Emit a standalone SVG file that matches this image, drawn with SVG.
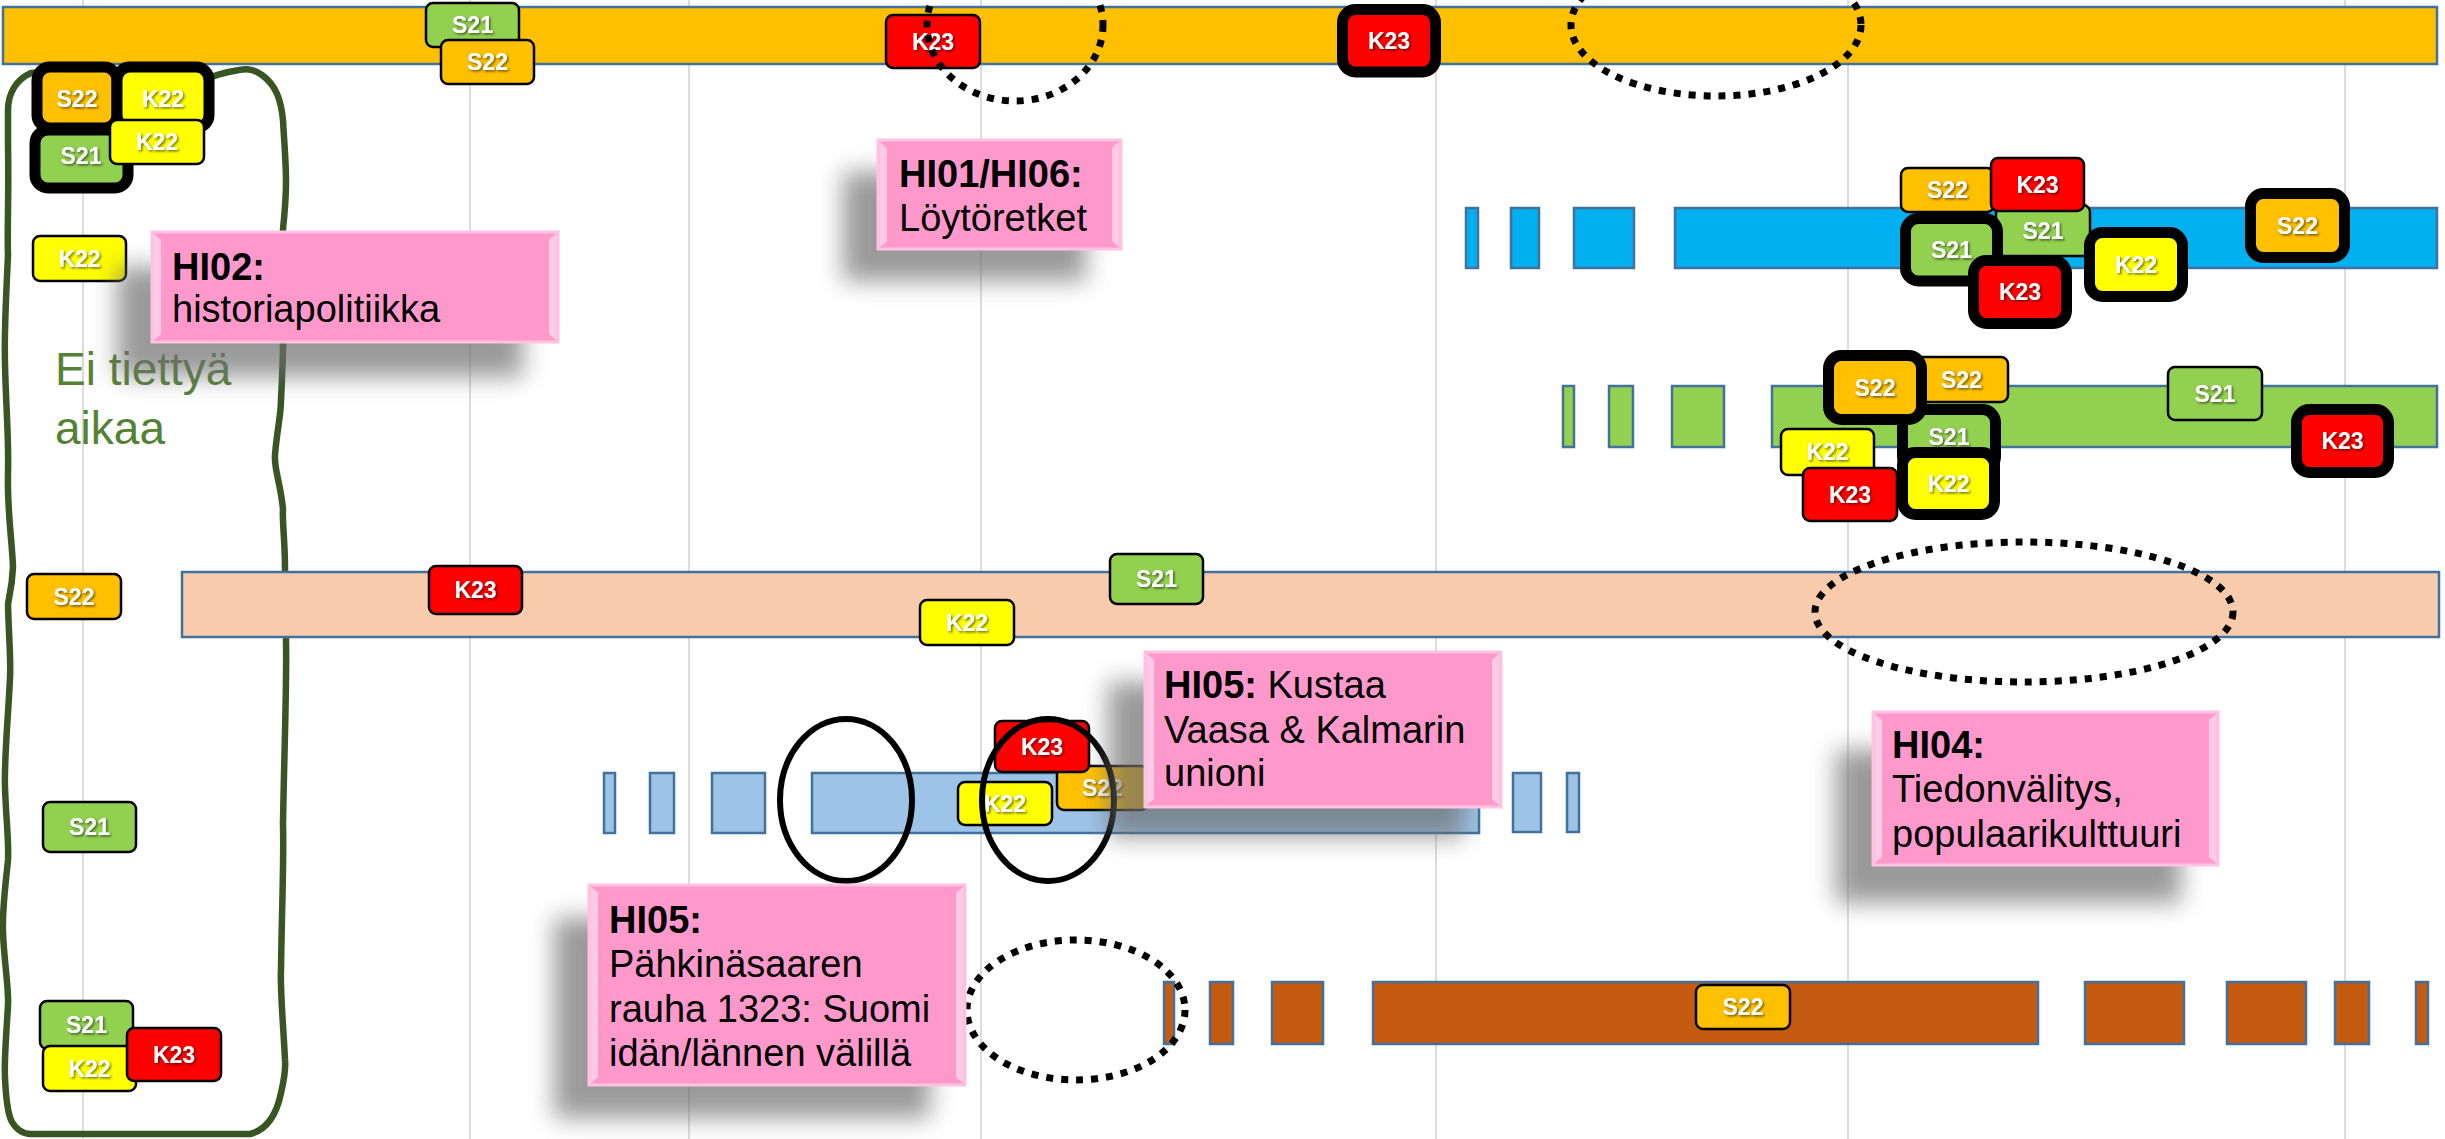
<svg xmlns="http://www.w3.org/2000/svg" width="2445" height="1139" viewBox="0 0 2445 1139">
<defs>
<style>
.grid{stroke:#d0d0d0;stroke-width:1.5}
.bar{stroke:#41719C;stroke-width:2.5}
.b{stroke:#000;stroke-width:2.5}
.bt{stroke:#000;stroke-width:11}
.g{fill:#92D050}.o{fill:#FFC000}.y{fill:#FFFF00}.r{fill:#FF0000}
.bl{font-family:"Liberation Sans",Arial,sans-serif;font-weight:bold;font-size:23px;fill:#fff;text-anchor:middle;filter:url(#ts)}
.lbl{font-family:"Liberation Sans",Arial,sans-serif;font-size:38px;fill:#000}
.hb{font-weight:bold}
.pk{fill:#FF99CC;stroke:#FFC2E0;stroke-width:3}
.bev{fill:#FFD6EB;opacity:0.8}
.shd{fill:#6e6e6e;opacity:0.7;filter:url(#blur)}
.dot{fill:none;stroke:#000;stroke-width:7;stroke-dasharray:7 8}
.sol{fill:none;stroke:#000;stroke-width:6}
</style>
<filter id="ts" x="-20%" y="-30%" width="140%" height="160%"><feDropShadow dx="1.5" dy="1.5" stdDeviation="0.8" flood-color="#000" flood-opacity="0.55"/></filter>
<filter id="blur" x="-30%" y="-40%" width="160%" height="180%"><feGaussianBlur stdDeviation="12"/></filter>
</defs>
<rect width="2445" height="1139" fill="#fff"/>
<g id="grid">
<line class="grid" x1="83" y1="0" x2="83" y2="1139"/>
<line class="grid" x1="470" y1="0" x2="470" y2="1139"/>
<line class="grid" x1="689" y1="0" x2="689" y2="1139"/>
<line class="grid" x1="981" y1="0" x2="981" y2="1139"/>
<line class="grid" x1="1436" y1="0" x2="1436" y2="1139"/>
<line class="grid" x1="1848" y1="0" x2="1848" y2="1139"/>
<line class="grid" x1="2345" y1="0" x2="2345" y2="1139"/>
</g>
<g id="no-time-outline">
<path d="M 31,73 C 15,80 8,95 8,110 L 8,145 C 9,200 7,230 8,255 C 6,300 4,330 5,364 C 6,410 9,440 8,473 C 7,510 12,540 13,567 C 12,590 8,600 8,605 C 9,640 11,660 10,678 C 8,720 4,760 5,787 C 6,820 9,840 8,860 C 5,890 2,910 3,933 C 4,960 9,990 8,1005 C 6,1040 4,1060 5,1078 C 6,1100 8,1115 12,1122 C 18,1132 25,1134 31,1134 L 250,1134 C 262,1131 275,1122 281,1093 C 284,1080 286,1070 285,1060 C 283,1020 280,990 281,969 C 282,900 284,860 283,824 C 284,760 287,680 286,642 C 286,610 285,590 285,569 C 285,540 282,520 283,509 C 280,480 274,470 275,455 C 277,430 281,415 281,400 C 282,380 283,360 283,342 L 283,229 C 285,210 286,195 286,182 C 286,160 284,140 283,120 C 281,100 276,85 262,75 C 252,68 245,69 239,70 C 225,72 218,75 214,76 L 60,76 C 45,74 38,72 31,73 Z" fill="none" stroke="#375623" stroke-width="6.5" stroke-linejoin="round"/>
<text x="55" y="385" font-family="'Liberation Sans',Arial,sans-serif" font-size="46" fill="#548235">Ei tiettyä</text>
<text x="55" y="444" font-family="'Liberation Sans',Arial,sans-serif" font-size="46" fill="#548235">aikaa</text>
</g>
<g id="bars">
<rect class="bar" x="3" y="7" width="2434" height="57" fill="#FFC000"/>
<g fill="#00B0F0">
<rect class="bar" x="1466" y="208" width="12" height="60"/>
<rect class="bar" x="1511" y="208" width="28" height="60"/>
<rect class="bar" x="1574" y="208" width="60" height="60"/>
<rect class="bar" x="1675" y="208" width="762" height="60"/>
</g>
<g fill="#92D050">
<rect class="bar" x="1563" y="386" width="11" height="61"/>
<rect class="bar" x="1609" y="386" width="24" height="61"/>
<rect class="bar" x="1672" y="386" width="52" height="61"/>
<rect class="bar" x="1772" y="386" width="665" height="61"/>
</g>
<rect class="bar" x="182" y="572" width="2257" height="65" fill="#F8CBAD"/>
<g fill="#9DC3E6">
<rect class="bar" x="604" y="773" width="11" height="60"/>
<rect class="bar" x="650" y="773" width="24" height="60"/>
<rect class="bar" x="712" y="773" width="53" height="60"/>
<rect class="bar" x="812" y="773" width="667" height="60"/>
<rect class="bar" x="1513" y="773" width="28" height="59"/>
<rect class="bar" x="1567" y="773" width="12" height="59"/>
</g>
<g fill="#C55A11">
<rect class="bar" x="1164" y="982" width="10" height="62"/>
<rect class="bar" x="1210" y="982" width="23" height="62"/>
<rect class="bar" x="1272" y="982" width="51" height="62"/>
<rect class="bar" x="1373" y="982" width="665" height="62"/>
<rect class="bar" x="2085" y="982" width="99" height="62"/>
<rect class="bar" x="2227" y="982" width="79" height="62"/>
<rect class="bar" x="2335" y="982" width="34" height="62"/>
<rect class="bar" x="2416" y="982" width="12" height="62"/>
</g>
</g>
<g id="badges-row1">
<g id="b-s21-a"><rect class="b g" x="426" y="3" width="93" height="44" rx="7"/><text class="bl" x="472.5" y="33">S21</text></g>
<g id="b-s22-a"><rect class="b o" x="441" y="40" width="93" height="44" rx="7"/><text class="bl" x="487.5" y="70">S22</text></g>
<g id="b-k23-a"><rect class="b r" x="886" y="15" width="94" height="53" rx="7"/><text class="bl" x="933" y="49.5">K23</text></g>
<g id="b-k23-t1"><rect class="bt r" x="1342.5" y="9.5" width="93" height="62.5" rx="13"/><text class="bl" x="1389" y="49">K23</text></g>
</g>
<g id="badges-left">
<g id="b-s21-t2"><rect class="bt g" x="35" y="130" width="93" height="58" rx="13"/><text class="bl" x="81" y="164">S21</text></g>
<g id="b-s22-t3"><rect class="bt o" x="37" y="67" width="80" height="61" rx="13"/><text class="bl" x="77" y="107">S22</text></g>
<g id="b-k22-t4"><rect class="bt y" x="117" y="67" width="92" height="61" rx="13"/><text class="bl" x="163" y="107">K22</text></g>
<g id="b-k22-b"><rect class="b y" x="110" y="120" width="94" height="44" rx="7"/><text class="bl" x="157" y="150">K22</text></g>
<g id="b-k22-c"><rect class="b y" x="33" y="236" width="93" height="45" rx="7"/><text class="bl" x="79.5" y="266.5">K22</text></g>
<g id="b-s22-c"><rect class="b o" x="27" y="574" width="94" height="45" rx="7"/><text class="bl" x="74" y="604.5">S22</text></g>
<g id="b-s21-c"><rect class="b g" x="43" y="802" width="93" height="50" rx="7"/><text class="bl" x="89.5" y="835">S21</text></g>
<g id="b-s21-d"><rect class="b g" x="40" y="1001" width="93" height="48" rx="7"/><text class="bl" x="86.5" y="1033">S21</text></g>
<g id="b-k22-d"><rect class="b y" x="43" y="1046" width="93" height="45" rx="7"/><text class="bl" x="89.5" y="1076.5">K22</text></g>
<g id="b-k23-d"><rect class="b r" x="127" y="1028" width="94" height="53" rx="7"/><text class="bl" x="174" y="1062.5">K23</text></g>
</g>
<g id="badges-row4">
<g id="b-k23-e"><rect class="b r" x="429" y="566" width="93" height="48" rx="7"/><text class="bl" x="475.5" y="598">K23</text></g>
<g id="b-k22-e"><rect class="b y" x="920" y="600" width="94" height="45" rx="7"/><text class="bl" x="967" y="630.5">K22</text></g>
<g id="b-s21-e"><rect class="b g" x="1110" y="554" width="93" height="50" rx="7"/><text class="bl" x="1156.5" y="587">S21</text></g>
</g>
<g id="badges-row5">
<g id="b-s22-f"><rect class="b o" x="1057" y="766" width="91" height="44" rx="7"/><text class="bl" x="1102.5" y="796">S22</text></g>
<g id="b-k22-f"><rect class="b y" x="958" y="782" width="94" height="43" rx="7"/><text class="bl" x="1005" y="811.5">K22</text></g>
<g id="b-k23-f"><rect class="b r" x="995" y="721" width="94" height="51" rx="7"/><text class="bl" x="1042" y="754.5">K23</text></g>
</g>
<g id="badges-row2">
<g id="b-s21-g"><rect class="b g" x="1996" y="205" width="94" height="51" rx="7"/><text class="bl" x="2043" y="238.5">S21</text></g>
<g id="b-s22-g"><rect class="b o" x="1901" y="168" width="93" height="44" rx="7"/><text class="bl" x="1947.5" y="198">S22</text></g>
<g id="b-k23-g"><rect class="b r" x="1991" y="158" width="93" height="53" rx="7"/><text class="bl" x="2037.5" y="192.5">K23</text></g>
<g id="b-s21-t5"><rect class="bt g" x="1905.5" y="218.5" width="92" height="62.5" rx="13"/><text class="bl" x="1951.5" y="258">S21</text></g>
<g id="b-k23-t6"><rect class="bt r" x="1973.5" y="260.5" width="93" height="63" rx="13"/><text class="bl" x="2020" y="300">K23</text></g>
<g id="b-k22-t7"><rect class="bt y" x="2089.5" y="232.5" width="93" height="64" rx="13"/><text class="bl" x="2136" y="272.5">K22</text></g>
<g id="b-s22-t8"><rect class="bt o" x="2250.5" y="193.5" width="94" height="64" rx="13"/><text class="bl" x="2297.5" y="233.5">S22</text></g>
</g>
<g id="badges-row3">
<g id="b-s22-h"><rect class="b o" x="1915" y="357" width="93" height="45" rx="7"/><text class="bl" x="1961.5" y="387.5">S22</text></g>
<g id="b-s21-t9"><rect class="bt g" x="1902.5" y="409.5" width="93" height="60" rx="13"/><text class="bl" x="1949" y="445">S21</text></g>
<g id="b-s22-t10"><rect class="bt o" x="1828.5" y="355.5" width="93" height="64" rx="13"/><text class="bl" x="1875" y="395.5">S22</text></g>
<g id="b-k22-h"><rect class="b y" x="1781" y="429" width="93" height="46" rx="7"/><text class="bl" x="1827.5" y="460">K22</text></g>
<g id="b-k23-h"><rect class="b r" x="1803" y="468" width="94" height="53" rx="7"/><text class="bl" x="1850" y="502.5">K23</text></g>
<g id="b-k22-t11"><rect class="bt y" x="1902.5" y="452.5" width="92" height="62" rx="13"/><text class="bl" x="1948.5" y="491.5">K22</text></g>
<g id="b-s21-h"><rect class="b g" x="2168" y="367" width="94" height="53" rx="7"/><text class="bl" x="2215" y="401.5">S21</text></g>
<g id="b-k23-t12"><rect class="bt r" x="2296.5" y="409.5" width="92" height="63" rx="13"/><text class="bl" x="2342.5" y="449">K23</text></g>
</g>
<g id="badges-row6">
<g id="b-s22-i"><rect class="b o" x="1696" y="985" width="94" height="44" rx="7"/><text class="bl" x="1743" y="1015">S22</text></g>
</g>
<g id="ellipses">
<ellipse class="dot" cx="1015" cy="25" rx="88" ry="76"/>
<ellipse class="dot" cx="1716" cy="25" rx="145" ry="71"/>
<ellipse class="dot" cx="2024" cy="612" rx="209" ry="70"/>
<ellipse class="dot" cx="1076" cy="1010" rx="109" ry="70"/>
<ellipse class="sol" cx="846" cy="800" rx="66" ry="81"/>
<ellipse class="sol" cx="1048" cy="800" rx="66" ry="81"/>
</g>
<g id="label-hi02">
<rect class="shd" x="117" y="267" width="406" height="110"/>
<rect class="pk" x="152" y="232" width="406" height="110"/>
<polygon class="bev" points="153.5,233.5 161,240 161,334 153.5,340.5"/>
<polygon class="bev" points="556.5,233.5 549,240 549,334 556.5,340.5"/>
<text class="lbl" x="172" y="280"><tspan class="hb">HI02:</tspan></text>
<text class="lbl" x="172" y="322">historiapolitiikka</text>
</g>
<g id="label-hi01">
<rect class="shd" x="843" y="172" width="243" height="109"/>
<rect class="pk" x="878" y="140" width="243" height="109"/>
<polygon class="bev" points="879.5,141.5 887,148 887,241 879.5,247.5"/>
<polygon class="bev" points="1119.5,141.5 1112,148 1112,241 1119.5,247.5"/>
<text class="lbl" x="899" y="187"><tspan class="hb">HI01/HI06:</tspan></text>
<text class="lbl" x="899" y="231">Löytöretket</text>
</g>
<g id="label-hi05-kustaa">
<rect class="shd" x="1108" y="682" width="356" height="155"/>
<rect class="pk" x="1145" y="652" width="356" height="155"/>
<polygon class="bev" points="1146.5,653.5 1154,660 1154,799 1146.5,805.5"/>
<polygon class="bev" points="1499.5,653.5 1492,660 1492,799 1499.5,805.5"/>
<text class="lbl" x="1164" y="698"><tspan class="hb">HI05:</tspan> Kustaa</text>
<text class="lbl" x="1164" y="743">Vaasa &amp; Kalmarin</text>
<text class="lbl" x="1164" y="786">unioni</text>
</g>
<g id="label-hi05-pahkina">
<rect class="shd" x="554" y="918" width="376" height="200"/>
<rect class="pk" x="589" y="885" width="376" height="200"/>
<polygon class="bev" points="590.5,886.5 598,893 598,1077 590.5,1083.5"/>
<polygon class="bev" points="963.5,886.5 956,893 956,1077 963.5,1083.5"/>
<text class="lbl" x="609" y="933"><tspan class="hb">HI05:</tspan></text>
<text class="lbl" x="609" y="977">Pähkinäsaaren</text>
<text class="lbl" x="609" y="1022">rauha 1323: Suomi</text>
<text class="lbl" x="609" y="1066">idän/lännen välillä</text>
</g>
<g id="label-hi04">
<rect class="shd" x="1836" y="750" width="345" height="153"/>
<rect class="pk" x="1873" y="712" width="345" height="153"/>
<polygon class="bev" points="1874.5,713.5 1882,720 1882,857 1874.5,863.5"/>
<polygon class="bev" points="2216.5,713.5 2209,720 2209,857 2216.5,863.5"/>
<text class="lbl" x="1892" y="758"><tspan class="hb">HI04:</tspan></text>
<text class="lbl" x="1892" y="802">Tiedonvälitys,</text>
<text class="lbl" x="1892" y="847">populaarikulttuuri</text>
</g>
</svg>
